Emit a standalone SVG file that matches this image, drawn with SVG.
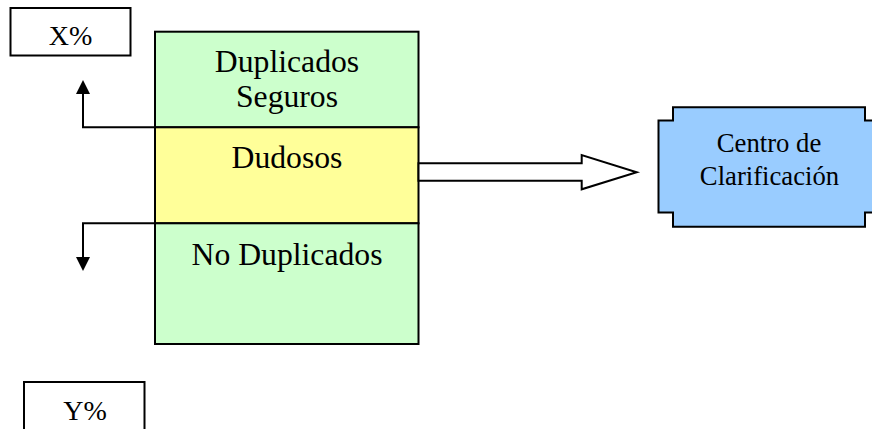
<svg xmlns="http://www.w3.org/2000/svg" width="872" height="429" viewBox="0 0 872 429">
<style>
.s{stroke:#000;stroke-width:2;}
.t{font-family:"Liberation Serif","Times New Roman",serif;fill:#000;text-anchor:middle;}
.ln{fill:none;stroke:#000;stroke-width:2;}
</style>
<defs>
<marker id="ah" viewBox="0 0 14 16" refX="0" refY="8" markerWidth="14" markerHeight="16" markerUnits="userSpaceOnUse" orient="auto">
<path d="M0,1 L14,8 L0,15 Z" fill="#000"/>
</marker>
</defs>
<rect width="872" height="429" fill="#fff"/>
<g id="x-pct">
<rect class="s" x="10.5" y="8" width="120" height="47.5" fill="#fff"/>
<text class="t" x="70.5" y="45" font-size="28">X%</text>
</g>
<g id="y-pct">
<rect class="s" x="24" y="382" width="120.5" height="60" fill="#fff"/>
<text class="t" x="85" y="420" font-size="28">Y%</text>
</g>
<g id="duplicados-seguros">
<rect class="s" x="155" y="31.7" width="263.5" height="95.6" fill="#CCFFCC"/>
<text class="t" x="287" y="72.3" font-size="31.7">Duplicados</text>
<text class="t" x="287" y="107" font-size="31.7">Seguros</text>
</g>
<g id="dudosos">
<rect class="s" x="155" y="127.3" width="263.5" height="96" fill="#FFFF99"/>
<text class="t" x="287" y="168" font-size="31.7">Dudosos</text>
</g>
<g id="no-duplicados">
<rect class="s" x="155" y="223.3" width="263.5" height="120.7" fill="#CCFFCC"/>
<text class="t" x="287" y="265" font-size="31.7">No Duplicados</text>
</g>
<g id="centro">
<path class="s" d="M673,107.3 H865 V120.5 H873 V212.5 H865 V226.7 H673 V212.5 H658.5 V120.5 H673 Z" fill="#99CCFF"/>
<text class="t" x="769" y="151.7" font-size="26.7">Centro de</text>
<text class="t" x="769.5" y="185" font-size="26.7">Clarificación</text>
</g>
<g id="connectors">
<path class="ln" d="M155,127.3 H83 V94" marker-end="url(#ah)"/>
<path class="ln" d="M155,223.3 H83 V257" marker-end="url(#ah)"/>
<path class="s" d="M418.5,163.3 H581.7 V155 L636.7,172.3 L581.7,189.3 V180.7 H418.5 Z" fill="#fff"/>
</g>
</svg>
